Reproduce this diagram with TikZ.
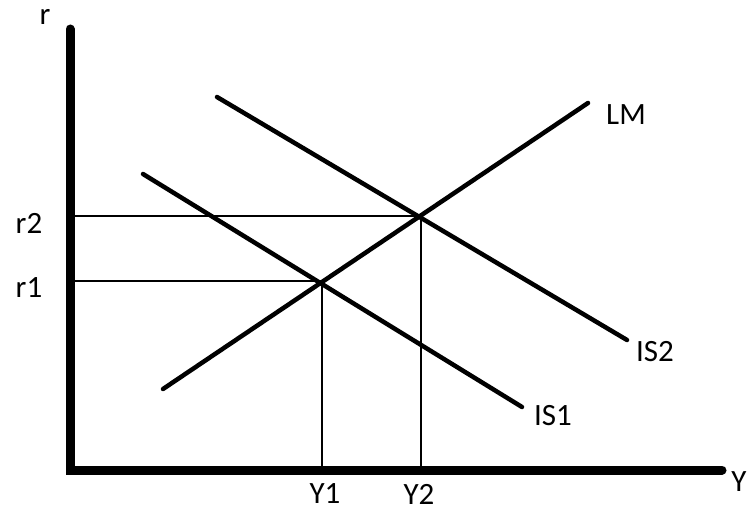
\documentclass[tikz,border=0pt]{standalone}
\usepackage{fontspec}
\setmainfont{Carlito}
\begin{document}
\begin{tikzpicture}[x=1pt,y=-1pt,
  axis/.style={line width=9pt,line cap=round,line join=miter},
  curve/.style={line width=4.5pt,line cap=round},
  guide/.style={line width=1.5pt},
  lbl/.style={inner sep=0pt,font=\fontsize{31}{36}\selectfont,text=black}]
\useasboundingbox (0,0) rectangle (747,511);
\coordinate (top) at (70,29);
\coordinate (origin) at (70,470);
\coordinate (right) at (722,470);
\draw[axis] (top) -- (origin) -- (right);
\coordinate (lmA) at (163,389);
\coordinate (lmB) at (588,103);
\coordinate (isoneA) at (143,174);
\coordinate (isoneB) at (522,407);
\coordinate (istwoA) at (217,97);
\coordinate (istwoB) at (627,340);
\coordinate (E1) at (322,281);
\coordinate (E2) at (421,216);
\coordinate (r1ax) at (74,281);
\coordinate (r2ax) at (74,216);
\coordinate (y1ax) at (322,466);
\coordinate (y2ax) at (421,466);
\draw[guide] (r2ax) -- (E2) -- (y2ax);
\draw[guide] (r1ax) -- (E1) -- (y1ax);
\draw[curve] (lmA) -- (lmB);
\draw[curve] (isoneA) -- (isoneB);
\draw[curve] (istwoA) -- (istwoB);
\node[lbl] (rlab) at (45,17) {r};
\node[lbl] (Ylab) at (739,482) {Y};
\node[lbl] (r2lab) at (29,223) {r2};
\node[lbl] (r1lab) at (29,288) {r1};
\node[lbl] (Y1lab) at (325,494) {Y1};
\node[lbl] (Y2lab) at (419,494) {Y2};
\node[lbl] (LMlab) at (626,115) {LM};
\node[lbl] (IS2lab) at (655,352) {IS2};
\node[lbl] (IS1lab) at (553,416) {IS1};
\end{tikzpicture}
\end{document}
